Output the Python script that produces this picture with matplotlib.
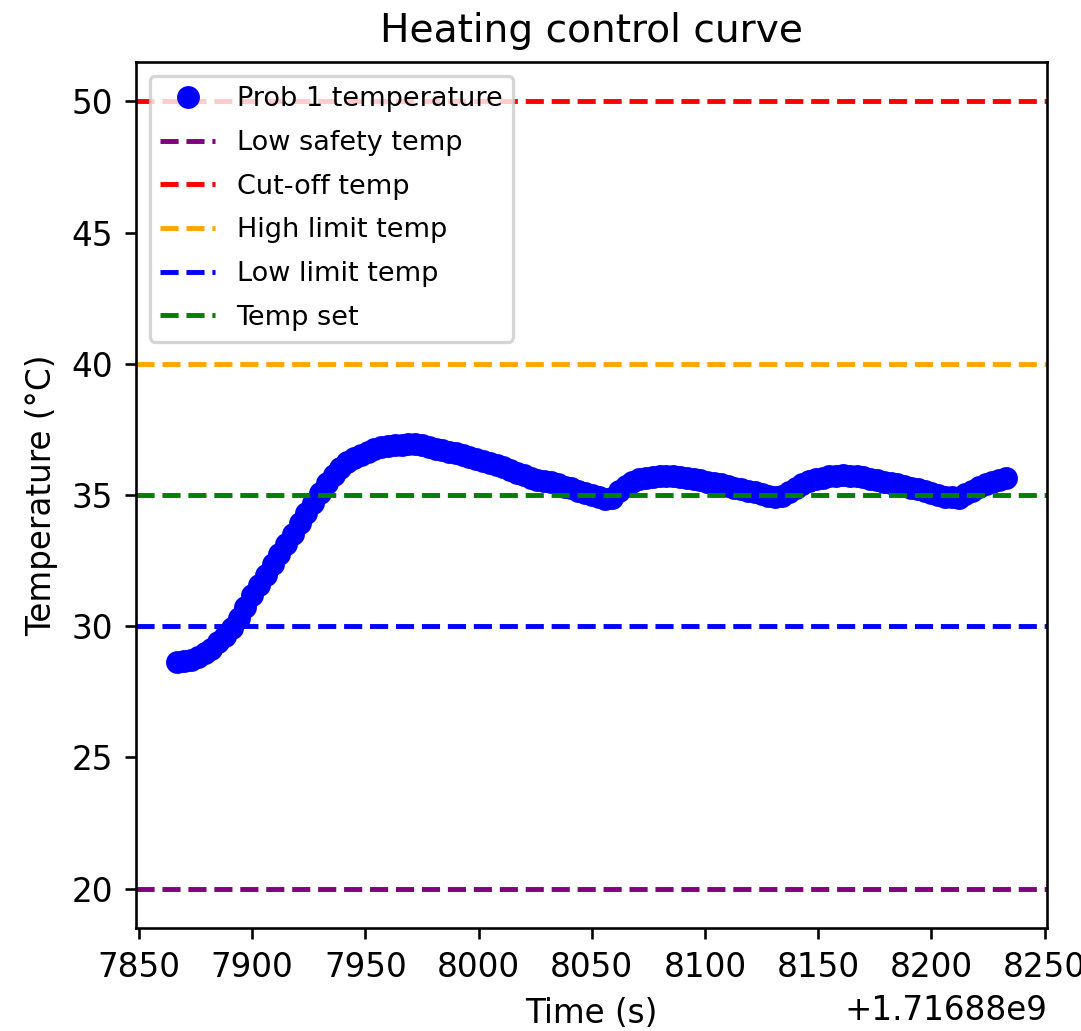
import numpy as np
import matplotlib
matplotlib.use('Agg')
import matplotlib.pyplot as plt

# time stamps (s since epoch) = base + offsets
t_base = 1716887867
t_offsets = [0, 3, 6, 9, 12, 15, 18, 21, 24, 27,
             30, 33, 36, 39, 42, 45, 48, 51, 54, 57,
             60, 63, 66, 69, 72, 75, 78, 81, 84, 87,
             90, 93, 96, 99, 102, 105, 108, 111, 114, 117,
             120, 123, 126, 129, 132, 135, 138, 141, 144, 147,
             150, 153, 156, 159, 162, 165, 168, 171, 174, 177,
             180, 183, 186, 189, 192, 195, 198, 201, 204, 207,
             210, 213, 216, 219, 222, 225, 228, 231, 234, 237,
             240, 243, 246, 249, 252, 255, 258, 261, 264, 267,
             270, 273, 276, 279, 282, 285, 288, 291, 294, 297,
             300, 303, 306, 309, 312, 315, 318, 321, 324, 327,
             330, 333, 336, 339, 342, 345, 348, 351, 354, 357,
             360, 363, 366]
temps = [28.65, 28.68, 28.73, 28.82, 28.97, 29.15, 29.39, 29.64, 29.95, 30.33,
         30.75, 31.17, 31.58, 31.97, 32.36, 32.75, 33.14, 33.53, 33.92, 34.31,
         34.70, 35.09, 35.45, 35.75, 36.01, 36.25, 36.40, 36.54, 36.65, 36.74,
         36.82, 36.86, 36.89, 36.91, 36.93, 36.95, 36.89, 36.83, 36.77, 36.71,
         36.65, 36.59, 36.52, 36.45, 36.37, 36.30, 36.23, 36.15, 36.05, 35.95,
         35.85, 35.75, 35.65, 35.57, 35.52, 35.48, 35.40, 35.32, 35.25, 35.16,
         35.08, 35.00, 34.92, 34.84, 34.90, 35.15, 35.36, 35.51, 35.60, 35.65,
         35.70, 35.71, 35.72, 35.71, 35.69, 35.66, 35.61, 35.56, 35.50, 35.45,
         35.40, 35.34, 35.28, 35.22, 35.16, 35.10, 35.04, 34.98, 34.93, 34.97,
         35.10, 35.27, 35.42, 35.52, 35.59, 35.66, 35.71, 35.74, 35.75, 35.74,
         35.72, 35.67, 35.62, 35.57, 35.51, 35.45, 35.40, 35.34, 35.27, 35.21,
         35.14, 35.07, 35.00, 34.94, 34.91, 34.90, 35.03, 35.17, 35.30, 35.41,
         35.50, 35.57, 35.63]

low_safety = 20
cut_off = 50
high_limit = 40
low_limit = 30
temp_set = 35

times = t_base + np.array(t_offsets)

fig = plt.figure(figsize=(4.6, 1031 / 235), dpi=235)
ax = fig.add_subplot(111)
plt.subplots_adjust(left=0.1258, right=0.969, bottom=0.0999, top=0.9399)

ax.plot(times, temps, 'bo', label='Prob 1 temperature')
ax.axhline(low_safety, color='purple', linestyle='--', label='Low safety temp')
ax.axhline(cut_off, color='red', linestyle='--', label='Cut-off temp')
ax.axhline(high_limit, color='orange', linestyle='--', label='High limit temp')
ax.axhline(low_limit, color='blue', linestyle='--', label='Low limit temp')
ax.axhline(temp_set, color='green', linestyle='--', label='Temp set')

ax.set_title('Heating control curve')
ax.set_xlabel('Time (s)')
ax.set_ylabel('Temperature (°C)')
ax.legend(loc='upper left', fontsize='small', labelspacing=0.65)

plt.savefig('out.png', dpi=235)
